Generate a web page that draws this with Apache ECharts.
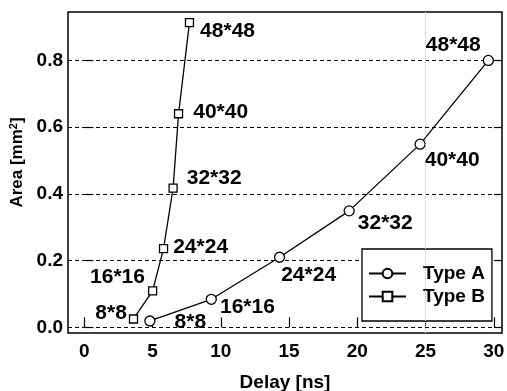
<!DOCTYPE html>
<html>
<head>
<meta charset="utf-8">
<script src="https://cdn.jsdelivr.net/npm/echarts@6/dist/echarts.min.js"></script>
<style>html,body{margin:0;padding:0;background:#fff;}#c{width:507px;height:391px;}</style>
</head>
<body>
<div id="c"></div>
<script>
const sizes = ['8*8', '16*16', '24*24', '32*32', '40*40', '48*48'];
const typeADelay = [4.8, 9.3, 14.3, 19.4, 24.6, 29.6];
const typeAArea = [0.019, 0.084, 0.21, 0.349, 0.549, 0.80];
const typeBDelay = [3.6, 5.0, 5.8, 6.5, 6.9, 7.7];
const typeBArea = [0.025, 0.109, 0.236, 0.417, 0.64, 0.913];
const xTicks = [0, 5, 10, 15, 20, 25, 30];
const yTicks = [0, 0.2, 0.4, 0.6, 0.8];

// label placement (style only)
const labelA = [['right', [19, 1]], ['right', [3, 8]], ['right', [-4, 18]], ['right', [3, 12]], ['right', [-1, 16]], ['left', [-2, -15]]];
const labelB = [['left', [-2, -6]], ['left', [-3, -14]], ['right', [5, -1]], ['right', [9, -10]], ['right', [10, -2]], ['right', [6, 9]]];

const FONT = '"Liberation Sans", Arial, Helvetica, sans-serif';

function build(xs, ys, layout) {
  return xs.map((x, i) => ({
    value: [x, ys[i]],
    label: {
      show: true,
      formatter: sizes[i],
      position: layout[i][0],
      distance: 0,
      offset: layout[i][1],
      fontSize: 21,
      fontWeight: 'bold',
      fontFamily: FONT,
      color: '#000'
    }
  }));
}

const chart = echarts.init(document.getElementById('c'), null, {renderer: 'canvas'});
chart.setOption({
  animation: false,
  backgroundColor: '#fff',
  grid: {left: 68, top: 12, right: 5, bottom: 58, outerBoundsMode: 'none', containLabel: false,
         show: true, borderColor: '#000', borderWidth: 1.5, backgroundColor: 'transparent'},
  xAxis: {
    type: 'value', min: -1.2, max: 30.6,
    name: 'Delay [ns]', nameLocation: 'middle', nameGap: 40,
    nameTextStyle: {fontSize: 19, fontWeight: 'bold', fontFamily: FONT, color: '#000'},
    axisLine: {show: false},
    axisTick: {show: true, inside: true, length: 10, customValues: xTicks, lineStyle: {color: '#000', width: 1.2}},
    axisLabel: {customValues: xTicks, fontSize: 19, fontWeight: 'bold', fontFamily: FONT, color: '#000', margin: 9},
    splitLine: {show: false}
  },
  yAxis: [{
    type: 'value', min: -0.017, max: 0.945,
    name: 'Area [mm{sup|2}]', nameLocation: 'middle', nameGap: 37,
    nameTextStyle: {fontSize: 17, fontWeight: 'bold', fontFamily: FONT, color: '#000', padding: [0, 0, 0, 20],
      rich: {sup: {fontSize: 11, fontWeight: 'bold', fontFamily: FONT, color: '#000', verticalAlign: 'top', padding: [0, 0, 6, 0]}}},
    axisLine: {show: false},
    axisTick: {show: true, inside: true, length: 9, customValues: yTicks, lineStyle: {color: '#000', width: 1.2}},
    axisLabel: {customValues: yTicks, formatter: v => v.toFixed(1), fontSize: 19, fontWeight: 'bold', fontFamily: FONT, color: '#000', margin: 5},
    splitLine: {show: true, lineStyle: {color: '#000', type: [4, 3], width: 1}}
  }, {
    type: 'value', min: -0.017, max: 0.945, position: 'right',
    axisLine: {show: false},
    axisTick: {show: true, inside: true, length: 8, customValues: yTicks, lineStyle: {color: '#000', width: 1.2}},
    axisLabel: {show: false},
    splitLine: {show: false}
  }],
  legend: {
    orient: 'vertical', left: 362, top: 249,
    backgroundColor: '#fff', borderColor: '#000', borderWidth: 1.3,
    padding: [13, 7, 13, 6], itemGap: 0,
    itemWidth: 37, itemHeight: 12,
    textStyle: {fontSize: 19, fontWeight: 'bold', fontFamily: FONT, color: '#000', lineHeight: 23, padding: [0, 0, 0, 12]},
    data: ['Type A', 'Type B']
  },
  series: [{
    name: 'Type A', type: 'line', yAxisIndex: 0,
    data: build(typeADelay, typeAArea, labelA),
    symbol: 'circle', symbolSize: 10,
    lineStyle: {color: '#000', width: 1.3},
    itemStyle: {color: '#fff', borderColor: '#000', borderWidth: 1.3},
    markLine: {
      silent: true, symbol: 'none', label: {show: false},
      lineStyle: {color: '#bbb', type: 'dotted', width: 1},
      data: [{xAxis: 25}]
    },
    z: 3
  }, {
    name: 'Type B', type: 'line', yAxisIndex: 0,
    data: build(typeBDelay, typeBArea, labelB),
    symbol: 'rect', symbolSize: 8,
    lineStyle: {color: '#000', width: 1.3},
    itemStyle: {color: '#fff', borderColor: '#000', borderWidth: 1.3},
    z: 3
  }]
});
</script>
</body>
</html>
